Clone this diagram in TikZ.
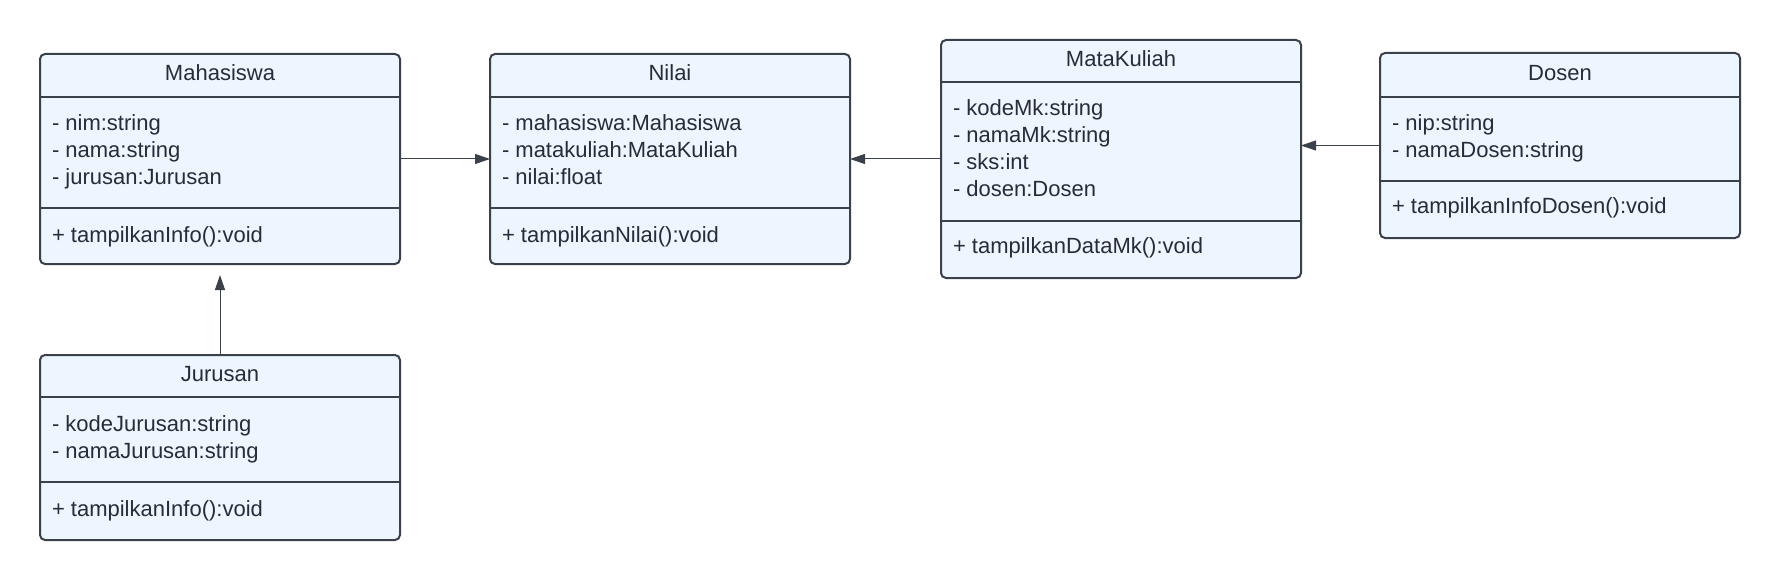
\documentclass[tikz,border=0pt]{standalone}
\usepackage{fontspec}
\setmainfont{Liberation Sans}
\usetikzlibrary{arrows.meta}
\definecolor{boxfill}{HTML}{EDF5FF}
\definecolor{boxline}{HTML}{3A414A}
\definecolor{txt}{HTML}{282C33}
\begin{document}
\begin{tikzpicture}[x=1pt,y=-1pt,inner sep=0pt,outer sep=0pt,
classbox/.style={draw=boxline,fill=boxfill,line width=2pt,rounded corners=5pt,minimum width=360pt},
classname/.style={anchor=base,text=txt,font=\fontsize{22}{27}\selectfont},
members/.style={anchor=north west,align=left,text=txt,font=\fontsize{22}{27}\selectfont},
method/.style={anchor=base west,text=txt,font=\fontsize{22}{27}\selectfont},
sepline/.style={draw=boxline,line width=2pt},
assoc/.style={draw=boxline,line width=1pt,-{Triangle[length=15pt,width=10pt]}}]
\useasboundingbox (0,0) rectangle (1780,580);
\node[classbox,minimum height=210pt] (mhs) at (220,159) {};
\node[classname] (mhs-name) at (220,80.5) {Mahasiswa};
\draw[sepline] (40,97) -- (400,97);
\draw[sepline] (40,208) -- (400,208);
\node[members] (mhs-attr) at (52,112.1) {\strut- nim:string\\- nama:string\\- jurusan:Jurusan};
\node[method] (mhs-op) at (52,242) {+ tampilkanInfo():void};
\node[classbox,minimum height=210pt] (nil) at (670,159) {};
\node[classname] (nil-name) at (670,80.5) {Nilai};
\draw[sepline] (490,97) -- (850,97);
\draw[sepline] (490,208) -- (850,208);
\node[members] (nil-attr) at (502,112.1) {\strut- mahasiswa:Mahasiswa\\- matakuliah:MataKuliah\\- nilai:float};
\node[method] (nil-op) at (502,242) {+ tampilkanNilai():void};
\node[classbox,minimum height=238pt] (mk) at (1121,159) {};
\node[classname] (mk-name) at (1121,66.3) {MataKuliah};
\draw[sepline] (941,82) -- (1301,82);
\draw[sepline] (941,221) -- (1301,221);
\node[members] (mk-attr) at (953,97.1) {\strut- kodeMk:string\\- namaMk:string\\- sks:int\\- dosen:Dosen};
\node[method] (mk-op) at (953,254) {+ tampilkanDataMk():void};
\node[classbox,minimum height=185pt] (dos) at (1560,145.5) {};
\node[classname] (dos-name) at (1560,80.3) {Dosen};
\draw[sepline] (1380,97) -- (1740,97);
\draw[sepline] (1380,181) -- (1740,181);
\node[members] (dos-attr) at (1392,112.1) {\strut- nip:string\\- namaDosen:string};
\node[method] (dos-op) at (1392,214) {+ tampilkanInfoDosen():void};
\node[classbox,minimum height=185pt] (jur) at (220,447.5) {};
\node[classname] (jur-name) at (220,381.3) {Jurusan};
\draw[sepline] (40,397) -- (400,397);
\draw[sepline] (40,482) -- (400,482);
\node[members] (jur-attr) at (52,412.1) {\strut- kodeJurusan:string\\- namaJurusan:string};
\node[method] (jur-op) at (52,516) {+ tampilkanInfo():void};
\draw[assoc] (mhs.east) -- (nil.west);
\draw[assoc] (mk.west) -- (nil.east);
\draw[assoc] (dos.west) -- (dos.west -| mk.east);
\draw[assoc,shorten >=11pt] (jur.north) -- (mhs.south);
\end{tikzpicture}
\end{document}
